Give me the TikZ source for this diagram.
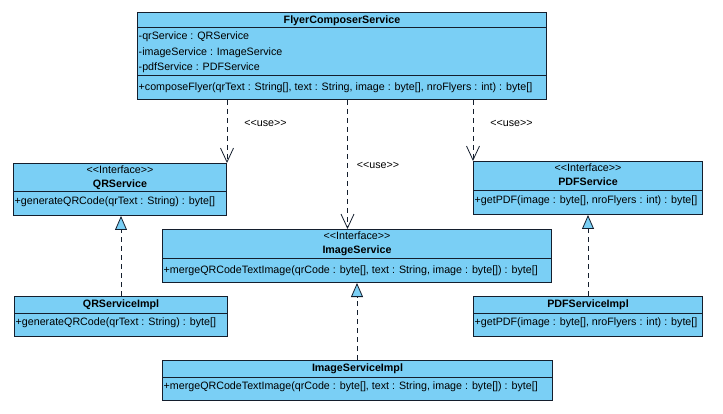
\documentclass[tikz,border=0pt]{standalone}
\usepackage{fontspec}
\setmainfont{Liberation Sans}
\usetikzlibrary{arrows.meta, positioning}

\definecolor{umlblue}{RGB}{122,207,245}
\definecolor{umlline}{RGB}{20,30,45}

\tikzset{
	classbox/.style = {draw = umlline, fill = umlblue, line width = 1pt, anchor = north west, inner sep = 0pt},
	divider/.style = {draw = umlline, line width = 1pt},
	row/.style = {anchor = base west, inner sep = 0pt, font = \fontsize{10.7}{13}\selectfont},
	title/.style = {anchor = base, inner sep = 0pt, font = \fontsize{10.7}{13}\selectfont\bfseries},
	stereo/.style = {anchor = base, inner sep = 0pt, font = \fontsize{10.7}{13}\selectfont},
	uselabel/.style = {inner sep = 0pt, font = \fontsize{10.7}{13}\selectfont},
	usedep/.style = {draw = umlline, line width = .8pt, dash pattern = on 5pt off 4pt,
		-{Straight Barb[length = 14pt, width = 13pt]}},
	realize/.style = {draw = umlline, line width = .8pt, dash pattern = on 5pt off 4pt,
		-{Triangle[length = 14pt, width = 12pt, fill = umlblue]}}
}

\begin{document}
\begin{tikzpicture}[x = 1pt, y = -1pt]
	\useasboundingbox (0,0) rectangle (723,414);
	
	% composer class
	\node [classbox, minimum width = 409pt, minimum height = 87pt] (fcs) at (137,12) {};
	\draw [divider] ([yshift = -16pt]fcs.north west) -- ([yshift = -16pt]fcs.north east);
	\draw [divider] ([yshift = -64pt]fcs.north west) -- ([yshift = -64pt]fcs.north east);
	\node [title] at ([yshift = -11.5pt]fcs.north) {FlyerComposerService};
	\node [row] at ([xshift = 1.5pt, yshift = -28pt]fcs.north west) {-qrService : QRService};
	\node [row] at ([xshift = 1.5pt, yshift = -43.5pt]fcs.north west) {-imageService : ImageService};
	\node [row] at ([xshift = 1.5pt, yshift = -59pt]fcs.north west) {-pdfService : PDFService};
	\node [row] at ([xshift = 1.5pt, yshift = -79pt]fcs.north west) {+composeFlyer(qrText : String[], text : String, image : byte[], nroFlyers : int) : byte[]};
	
	% interfaces
	\node [classbox, minimum width = 213pt, minimum height = 52pt] (qrs) at (13,163) {};
	\draw [divider] ([yshift = -29pt]qrs.north west) -- ([yshift = -29pt]qrs.north east);
	\node [stereo] at ([yshift = -11pt]qrs.north) {<{}<Interface>{}>};
	\node [title] at ([yshift = -24.5pt]qrs.north) {QRService};
	\node [row] at ([xshift = 1.5pt, yshift = -42pt]qrs.north west) {+generateQRCode(qrText : String) : byte[]};
	
	\node [classbox, minimum width = 229pt, minimum height = 53pt] (pdfs) at (473,161) {};
	\draw [divider] ([yshift = -30pt]pdfs.north west) -- ([yshift = -30pt]pdfs.north east);
	\node [stereo] at ([yshift = -11pt]pdfs.north) {<{}<Interface>{}>};
	\node [title] at ([yshift = -25pt]pdfs.north) {PDFService};
	\node [row] at ([xshift = 1.5pt, yshift = -43pt]pdfs.north west) {+getPDF(image : byte[], nroFlyers : int) : byte[]};
	
	\node [classbox, minimum width = 389pt, minimum height = 53pt] (ims) at (162,229) {};
	\draw [divider] ([yshift = -30pt]ims.north west) -- ([yshift = -30pt]ims.north east);
	\node [stereo] at ([yshift = -11pt]ims.north) {<{}<Interface>{}>};
	\node [title] at ([yshift = -25pt]ims.north) {ImageService};
	\node [row] at ([xshift = 1.5pt, yshift = -44pt]ims.north west) {+mergeQRCodeTextImage(qrCode : byte[], text : String, image : byte[]) : byte[]};
	
	% implementations
	\node [classbox, minimum width = 213pt, minimum height = 40pt] (qrsi) at (14,296) {};
	\draw [divider] ([yshift = -17pt]qrsi.north west) -- ([yshift = -17pt]qrsi.north east);
	\node [title] at ([yshift = -11.5pt]qrsi.north) {QRServiceImpl};
	\node [row] at ([xshift = 1.5pt, yshift = -29pt]qrsi.north west) {+generateQRCode(qrText : String) : byte[]};
	
	\node [classbox, minimum width = 229pt, minimum height = 40pt] (pdfsi) at (473,296) {};
	\draw [divider] ([yshift = -17pt]pdfsi.north west) -- ([yshift = -17pt]pdfsi.north east);
	\node [title] at ([yshift = -11.5pt]pdfsi.north) {PDFServiceImpl};
	\node [row] at ([xshift = 1.5pt, yshift = -29pt]pdfsi.north west) {+getPDF(image : byte[], nroFlyers : int) : byte[]};
	
	\node [classbox, minimum width = 390pt, minimum height = 40pt] (imsi) at (162,360) {};
	\draw [divider] ([yshift = -17pt]imsi.north west) -- ([yshift = -17pt]imsi.north east);
	\node [title] at ([yshift = -11.5pt]imsi.north) {ImageServiceImpl};
	\node [row] at ([xshift = 1.5pt, yshift = -29pt]imsi.north west) {+mergeQRCodeTextImage(qrCode : byte[], text : String, image : byte[]) : byte[]};
	
	% use dependencies
	\coordinate (imsdep) at ([xshift = 5.5pt]fcs.south);
	\draw [usedep] (fcs.south -| qrs.north east) -- node [uselabel, pos = .375, right = 17pt] {<{}<use>{}>} (qrs.north east);
	\draw [usedep] (imsdep) -- node [uselabel, pos = .51, right = 9pt] {<{}<use>{}>} (imsdep |- ims.north);
	\draw [usedep] (fcs.south -| pdfs.north west) -- node [uselabel, pos = .39, right = 17pt] {<{}<use>{}>} (pdfs.north west);
	
	% realizations
	\draw [realize] (qrsi.north) -- (qrsi.north |- qrs.south);
	\draw [realize] (pdfsi.north) -- (pdfsi.north |- pdfs.south);
	\draw [realize] (imsi.north -| ims.south) -- (ims.south);
\end{tikzpicture}
\end{document}
